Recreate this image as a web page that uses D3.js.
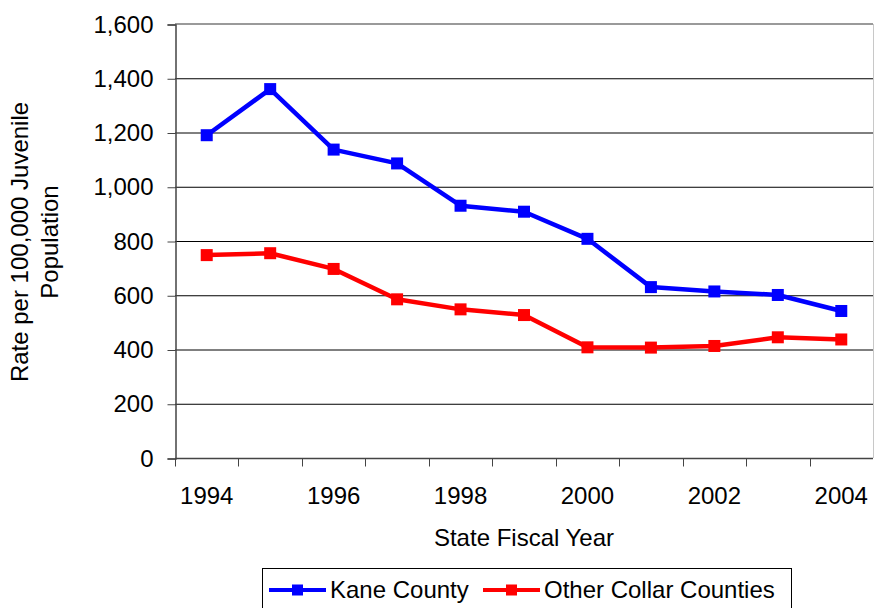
<!DOCTYPE html>
<html>
<head>
<meta charset="utf-8">
<script src="https://cdn.jsdelivr.net/npm/d3@7"></script>
<style>
  html, body { margin: 0; padding: 0; background: #fff; }
  svg { display: block; font-family: "Liberation Sans", Arial, sans-serif; }
</style>
</head>
<body>
<script>
// Juvenile rate per 100,000 population, by state fiscal year
const years = [1994, 1995, 1996, 1997, 1998, 1999, 2000, 2001, 2002, 2003, 2004];
const kaneCounty = [1190, 1360, 1137, 1086, 930, 908, 808, 630, 614, 601, 542];
const otherCollar = [748, 755, 697, 585, 548, 527, 408, 407, 413, 445, 437];
const yTicks = [0, 200, 400, 600, 800, 1000, 1200, 1400, 1600];
const xLabelYears = [1994, 1996, 1998, 2000, 2002, 2004];
const seriesNames = ["Kane County", "Other Collar Counties"];
const seriesColors = ["#0000ff", "#ff0000"];

const W = 874, H = 608;
const m = { left: 175, right: 1, top: 24, bottom: 150 };
const FS = 24;
const svg = d3.select("body").append("svg").attr("width", W).attr("height", H);

const x = d3.scaleBand().domain(years).range([m.left, W - m.right]);
const y = d3.scaleLinear().domain([0, 1600]).range([H - m.bottom, m.top]);

// horizontal gridlines
svg.append("g").selectAll("line").data(yTicks.filter(d => d > 0 && d < 1600)).join("line")
  .attr("x1", m.left).attr("x2", W - m.right)
  .attr("y1", d => y(d) + 0.5).attr("y2", d => y(d) + 0.5)
  .attr("stroke", "#000").attr("stroke-width", 1);

// plot frame: top and right edges
svg.append("line").attr("x1", m.left).attr("x2", W - m.right)
  .attr("y1", y(1600)).attr("y2", y(1600))
  .attr("stroke", "#9a9a9a").attr("stroke-width", 2);
svg.append("line").attr("x1", W - m.right + 0.5).attr("x2", W - m.right + 0.5)
  .attr("y1", y(1600)).attr("y2", y(0))
  .attr("stroke", "#c8c8c8").attr("stroke-width", 1);

// y axis
const yAxis = d3.axisLeft(y).tickValues(yTicks).tickSize(8).tickPadding(14)
  .tickFormat(d3.format(","));
const gy = svg.append("g").attr("transform", `translate(${m.left + 0.5},0.5)`).call(yAxis);
gy.attr("font-size", FS).attr("font-family", "Liberation Sans, Arial, sans-serif");
gy.select(".domain").attr("stroke", "#444").attr("stroke-width", 1.5);
gy.selectAll(".tick line").attr("stroke", "#444");
gy.selectAll("text").attr("fill", "#000");

// x axis: ticks at category boundaries, labels on alternate years
const boundaries = years.map(d => x(d));
const gx = svg.append("g").attr("transform", `translate(0,${y(0) + 0.5})`);
gx.append("line").attr("x1", m.left).attr("x2", W - m.right)
  .attr("stroke", "#444").attr("stroke-width", 1.5);
gx.selectAll("line.tk").data(boundaries).join("line").attr("class", "tk")
  .attr("x1", d => Math.round(d) + 0.5).attr("x2", d => Math.round(d) + 0.5)
  .attr("y1", 0).attr("y2", 8).attr("stroke", "#444");
gx.selectAll("text").data(xLabelYears).join("text")
  .attr("x", d => x(d) + x.bandwidth() / 2).attr("y", 45)
  .attr("text-anchor", "middle").attr("font-size", FS).text(d => d);

// axis titles
svg.append("text").attr("x", (m.left + W - m.right) / 2).attr("y", 546)
  .attr("text-anchor", "middle").attr("font-size", FS).text("State Fiscal Year");
const yt = svg.append("text").attr("transform", "translate(0,242) rotate(-90)")
  .attr("text-anchor", "middle").attr("font-size", FS);
yt.append("tspan").attr("x", 0).attr("y", 28).text("Rate per 100,000 Juvenile");
yt.append("tspan").attr("x", 0).attr("y", 58).text("Population");

// series lines with square markers
const series = [kaneCounty, otherCollar];
const line = d3.line().x((d, i) => x(years[i]) + x.bandwidth() / 2).y(d => y(d));
const ms = 12;
series.forEach((vals, s) => {
  svg.append("path").datum(vals).attr("d", line)
    .attr("fill", "none").attr("stroke", seriesColors[s]).attr("stroke-width", 4.5)
    .attr("stroke-linejoin", "round");
  svg.append("g").selectAll("rect").data(vals).join("rect")
    .attr("x", (d, i) => x(years[i]) + x.bandwidth() / 2 - ms / 2)
    .attr("y", d => y(d) - ms / 2)
    .attr("width", ms).attr("height", ms).attr("fill", seriesColors[s]);
});

// legend
const lg = svg.append("g");
lg.append("rect").attr("x", 262.5).attr("y", 568.5).attr("width", 529).attr("height", 45)
  .attr("fill", "#fff").attr("stroke", "#000").attr("stroke-width", 1);
const legendX = [269, 483];
seriesNames.forEach((name, s) => {
  const lx = legendX[s];
  lg.append("line").attr("x1", lx).attr("x2", lx + 57).attr("y1", 590).attr("y2", 590)
    .attr("stroke", seriesColors[s]).attr("stroke-width", 4);
  lg.append("rect").attr("x", lx + 28.5 - 5.5).attr("y", 584.5).attr("width", 11).attr("height", 11)
    .attr("fill", seriesColors[s]);
  lg.append("text").attr("x", lx + 61).attr("y", 598).attr("font-size", FS).text(name);
});
</script>
</body>
</html>
